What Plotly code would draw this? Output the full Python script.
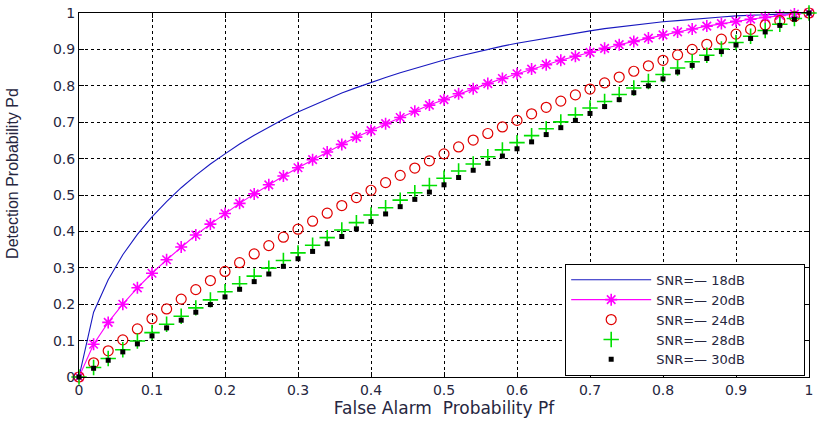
import plotly.graph_objects as go

pf = [0.00, 0.02, 0.04, 0.06, 0.08, 0.10, 0.12, 0.14, 0.16, 0.18,
      0.20, 0.22, 0.24, 0.26, 0.28, 0.30, 0.32, 0.34, 0.36, 0.38,
      0.40, 0.42, 0.44, 0.46, 0.48, 0.50, 0.52, 0.54, 0.56, 0.58,
      0.60, 0.62, 0.64, 0.66, 0.68, 0.70, 0.72, 0.74, 0.76, 0.78,
      0.80, 0.82, 0.84, 0.86, 0.88, 0.90, 0.92, 0.94, 0.96, 0.98, 1.00]

pd_18 = [0.000, 0.178, 0.267, 0.336, 0.392, 0.440, 0.482, 0.520, 0.554, 0.585,
         0.613, 0.640, 0.664, 0.687, 0.708, 0.728, 0.746, 0.763, 0.780, 0.795,
         0.810, 0.823, 0.836, 0.848, 0.860, 0.871, 0.881, 0.891, 0.900, 0.909,
         0.917, 0.924, 0.932, 0.939, 0.945, 0.951, 0.957, 0.962, 0.967, 0.971,
         0.976, 0.979, 0.983, 0.986, 0.989, 0.992, 0.994, 0.996, 0.998, 0.999, 1.000]

pd_20 = [0.000, 0.090, 0.150, 0.200, 0.245, 0.285, 0.322, 0.357, 0.390, 0.420,
         0.449, 0.477, 0.503, 0.528, 0.552, 0.575, 0.597, 0.618, 0.639, 0.659,
         0.677, 0.696, 0.713, 0.730, 0.747, 0.762, 0.778, 0.792, 0.806, 0.820,
         0.833, 0.846, 0.858, 0.870, 0.881, 0.892, 0.903, 0.913, 0.922, 0.931,
         0.940, 0.948, 0.956, 0.964, 0.971, 0.977, 0.983, 0.988, 0.993, 0.997, 1.000]

pd_24 = [0.000, 0.039, 0.072, 0.102, 0.132, 0.160, 0.187, 0.214, 0.240, 0.265,
         0.290, 0.314, 0.338, 0.361, 0.384, 0.406, 0.428, 0.450, 0.471, 0.493,
         0.513, 0.534, 0.554, 0.574, 0.594, 0.613, 0.632, 0.651, 0.669, 0.687,
         0.705, 0.723, 0.741, 0.758, 0.775, 0.791, 0.808, 0.824, 0.840, 0.855,
         0.870, 0.885, 0.900, 0.914, 0.928, 0.942, 0.955, 0.967, 0.979, 0.990, 1.000]

pd_28 = [0.000, 0.026, 0.051, 0.075, 0.099, 0.122, 0.145, 0.167, 0.190, 0.212,
         0.234, 0.256, 0.277, 0.299, 0.320, 0.341, 0.362, 0.383, 0.404, 0.424,
         0.445, 0.465, 0.486, 0.506, 0.526, 0.546, 0.566, 0.585, 0.605, 0.624,
         0.644, 0.663, 0.682, 0.701, 0.720, 0.739, 0.757, 0.776, 0.794, 0.812,
         0.831, 0.849, 0.866, 0.884, 0.901, 0.919, 0.936, 0.952, 0.969, 0.985, 1.000]

pd_30 = [0.000, 0.024, 0.046, 0.069, 0.091, 0.113, 0.135, 0.156, 0.178, 0.199,
         0.220, 0.241, 0.262, 0.283, 0.304, 0.325, 0.345, 0.366, 0.386, 0.407,
         0.427, 0.448, 0.468, 0.488, 0.508, 0.528, 0.548, 0.568, 0.587, 0.607,
         0.627, 0.646, 0.666, 0.685, 0.705, 0.724, 0.743, 0.762, 0.781, 0.800,
         0.819, 0.838, 0.856, 0.875, 0.894, 0.912, 0.930, 0.948, 0.966, 0.983, 1.000]

names = ["SNR=\u2014 18dB", "SNR=\u2014 20dB", "SNR=\u2014 24dB",
         "SNR=\u2014 28dB", "SNR=\u2014 30dB"]

tick_vals = [0, 0.1, 0.2, 0.3, 0.4, 0.5, 0.6, 0.7, 0.8, 0.9, 1]
tick_text = ["0", "0.1", "0.2", "0.3", "0.4", "0.5", "0.6", "0.7", "0.8", "0.9", "1"]

x_title = "False Alarm  Probability Pf"
y_title = "Detection Probability Pd"

FONT = "Liberation Sans, Arial, sans-serif"
WIDE = "DejaVu Sans, Liberation Sans, sans-serif"
TXT = "#262640"
PAD = "\u00a0" * 13

fig = go.Figure()
fig.add_trace(go.Scatter(x=pf, y=pd_18, mode="lines", name=names[0] + PAD,
                         line=dict(color="#1818c0", width=1.1), cliponaxis=False))
fig.add_trace(go.Scatter(x=pf, y=pd_20, mode="lines+markers", name=names[1] + PAD,
                         line=dict(color="#ff00ff", width=1.1),
                         marker=dict(symbol="asterisk-open", size=10, color="#ff00ff",
                                     line=dict(color="#ff00ff", width=1.6)),
                         cliponaxis=False))
fig.add_trace(go.Scatter(x=pf, y=pd_24, mode="markers", name=names[2] + PAD,
                         marker=dict(symbol="circle-open", size=10, color="#e00000",
                                     line=dict(color="#e00000", width=1.2)),
                         cliponaxis=False))
fig.add_trace(go.Scatter(x=pf, y=pd_28, mode="markers", name=names[3] + PAD,
                         marker=dict(symbol="cross-thin-open", size=11, color="#00e000",
                                     line=dict(color="#00e000", width=1.6)),
                         cliponaxis=False))
fig.add_trace(go.Scatter(x=pf, y=pd_30, mode="markers", name=names[4] + PAD,
                         marker=dict(symbol="square", size=5, color="#000000"),
                         cliponaxis=False))

axis_common = dict(
    range=[0, 1], tickvals=tick_vals, ticktext=tick_text,
    showgrid=True, gridcolor="#000000", gridwidth=1.3, griddash="3px,3px",
    zeroline=False, showline=True, linecolor="#000000", linewidth=1,
    mirror="allticks", ticks="inside", ticklen=5, tickcolor="#000000",
    tickfont=dict(family=WIDE, size=14, color=TXT),
    ticklabeloverflow="allow",
)

fig.update_layout(
    width=818, height=421,
    margin=dict(l=79, r=5, t=7, b=44),
    paper_bgcolor="white", plot_bgcolor="white",
    xaxis=dict(axis_common, title=dict(text=x_title,
                                        font=dict(family=WIDE, size=17, color=TXT),
                                        standoff=1)),
    yaxis=dict(axis_common),
    legend=dict(x=0.666, y=0.311, xanchor="left", yanchor="top",
                bgcolor="white", bordercolor="#000000", borderwidth=1,
                font=dict(family=WIDE, size=13, color=TXT),
                itemwidth=80, tracegroupgap=0),
    showlegend=True,
    annotations=[dict(text=y_title, xref="paper", yref="paper",
                      x=-0.0913, y=0.559, xanchor="center", yanchor="middle",
                      textangle=-90, showarrow=False,
                      font=dict(family=FONT, size=16, color=TXT))],
)

fig.write_html("out.html")
